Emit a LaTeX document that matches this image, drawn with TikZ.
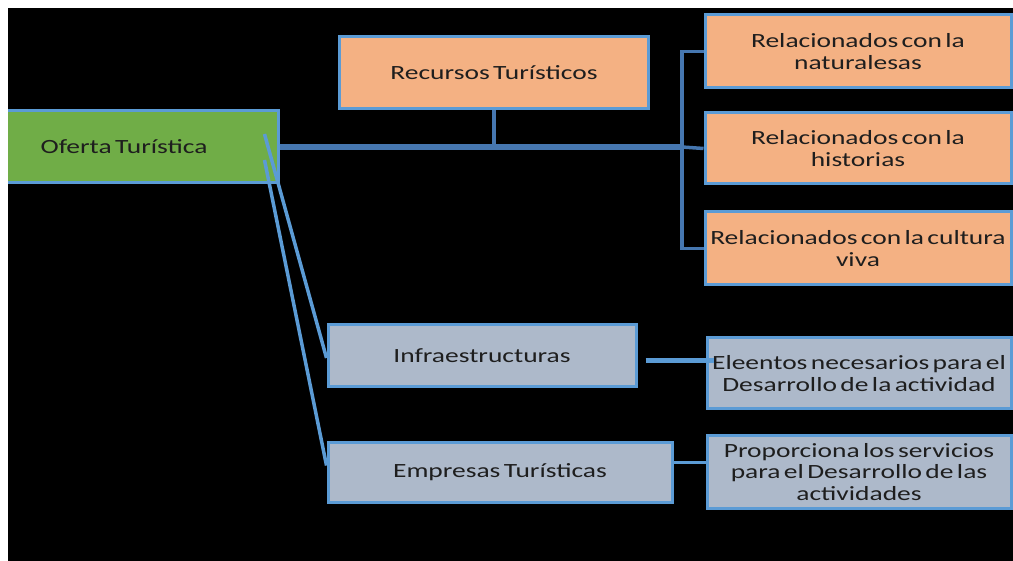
\documentclass[tikz,border=0pt]{standalone}
\usepackage{fontspec}
\setmainfont{Carlito}[FakeStretch=1.36, WordSpace=0.55]
\definecolor{bord}{HTML}{5B9BD5}
\definecolor{dark}{HTML}{4677B0}
\definecolor{orng}{HTML}{F4B183}
\definecolor{grayb}{HTML}{ADB9CA}
\definecolor{grn}{HTML}{70AD47}
\definecolor{txt}{HTML}{1E1E1E}
\tikzset{
  box/.style={draw=bord, line width=3pt, inner sep=0pt, align=center, text=txt,
    font=\fontsize{20.2}{21.5}\selectfont},
  obox/.style={box, fill=orng},
  gbox/.style={box, fill=grayb},
  grbox/.style={box, fill=grn},
  mainline/.style={draw=dark, line width=6pt},
  busline/.style={draw=dark, line width=3.5pt},
  link/.style={draw=bord, line width=3.5pt},
}
\begin{document}
\begin{tikzpicture}[x=1pt,y=-1pt]
\useasboundingbox (0,0) rectangle (1013,561);
\fill[black] (8,8) rectangle (1013,561);

\node[grbox, minimum width=308pt, minimum height=72pt] (ofe) at (124,147) {Oferta Turística};
\node[obox, minimum width=309pt, minimum height=72pt] (rec) at (494,73) {Recursos Turísticos};
\node[obox, minimum width=306pt, minimum height=73pt] (nat) at (858,51.5) {Relacionados con la\\naturalesas};
\node[obox, minimum width=306pt, minimum height=71pt] (hist) at (858,148.5) {Relacionados con la\\historias};
\node[obox, minimum width=306pt, minimum height=73pt] (cult) at (858,248.5) {Relacionados con la cultura\\viva};
\node[gbox, minimum width=308pt, minimum height=62pt] (infra) at (482,356) {Infraestructuras};
\node[gbox, minimum width=344pt, minimum height=59pt] (emp) at (500,472.5) {Empresas Turísticas};
\node[gbox, minimum width=304pt, minimum height=71pt] (ele) at (859,373.5) {Eleentos necesarios para el\\Desarrollo de la actividad};
\node[gbox, minimum width=304pt, minimum height=72pt] (prop) at (859,472) {Proporciona los servicios\\para el Desarrollo de las\\actividades};

\coordinate (j) at (682,147);
\draw[mainline] (ofe.east) -- (j);
\draw[busline, line width=4.5pt] (rec.south) -- (rec.south |- j);
\draw[busline] (nat.west) -- (nat.west -| j) -- (cult.west -| j) -- (cult.west);
\draw[busline] (j) -- (hist.west);

\draw[link, line width=5pt] ([xshift=8pt,yshift=-5pt]infra.east) -- ([xshift=8pt,yshift=-5pt]infra.east -| ele.west);
\draw[link, line width=3pt] ([yshift=10pt]emp.east) -- ([yshift=10pt]emp.east -| prop.west);

\draw[link] ([xshift=-15pt,yshift=13pt]ofe.east) -- ([yshift=-2pt]infra.west);
\draw[link] ([xshift=-15pt,yshift=-13pt]ofe.east) -- ([yshift=7pt]emp.west);

\fill[white] (0,0) rectangle (8,561);
\end{tikzpicture}
\end{document}
